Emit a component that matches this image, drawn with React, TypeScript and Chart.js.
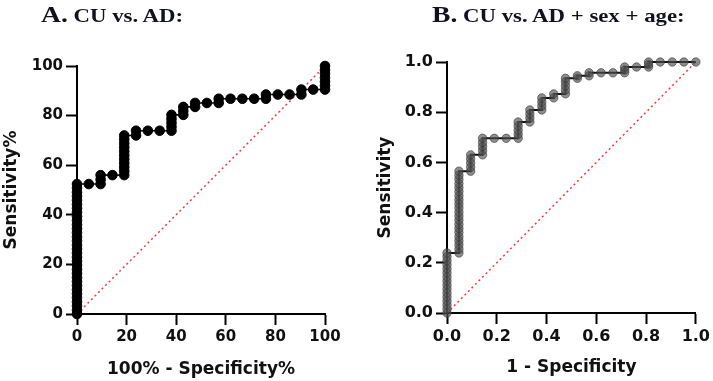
import React, { useEffect, useRef } from "react";
import { Chart, registerables } from "chart.js";

Chart.register(...registerables);

// ---------- Panel A: CU vs. AD (percent scale) ----------
const fprA = [
  0, 0, 0, 0, 0, 0, 0, 0, 0, 0, 0, 0, 0, 0, 0, 0, 0, 0, 0, 0, 0, 0, 0, 0, 0, 0, 0, 0, 0, 0, 0, 0, 0,
  4.76,
  9.52, 9.52, 9.52,
  14.29,
  19.05, 19.05, 19.05, 19.05, 19.05, 19.05, 19.05, 19.05, 19.05, 19.05, 19.05,
  23.81, 23.81,
  28.57,
  33.33,
  38.1, 38.1, 38.1, 38.1, 38.1,
  42.86, 42.86, 42.86,
  47.62, 47.62,
  52.38,
  57.14, 57.14,
  61.9,
  66.67,
  71.43,
  76.19, 76.19,
  80.95,
  85.71,
  90.48, 90.48,
  95.24,
  100, 100, 100, 100, 100, 100, 100,
];
const tprA = [
  0, 1.6, 3.3, 4.9, 6.6, 8.2, 9.8, 11.5, 13.1, 14.7, 16.4, 18.0, 19.7, 21.3, 22.9, 24.6, 26.2,
  27.8, 29.5, 31.1, 32.8, 34.4, 36.0, 37.7, 39.3, 41.0, 42.6, 44.2, 45.9, 47.5, 49.1, 50.8, 52.4,
  52.4,
  52.4, 54.2, 56.0,
  56.0,
  56.0, 57.6, 59.2, 60.8, 62.4, 64.0, 65.6, 67.2, 68.8, 70.4, 72.0,
  72.0, 73.9,
  73.9,
  73.9,
  73.9, 75.5, 77.1, 78.7, 80.3,
  80.3, 81.9, 83.5,
  83.5, 85.1,
  85.1,
  85.1, 86.8,
  86.8,
  86.8,
  86.8,
  86.8, 88.5,
  88.5,
  88.5,
  88.5, 90.5,
  90.5,
  90.5, 92.1, 93.7, 95.3, 96.9, 98.4, 100,
];
const ticksA = [0, 20, 40, 60, 80, 100];
const diagA = [0, 100];

// ---------- Panel B: CU vs. AD + sex + age (fraction scale) ----------
const fprB = [
  0, 0, 0, 0, 0, 0, 0, 0, 0, 0, 0, 0, 0, 0, 0, 0,
  0.048, 0.048, 0.048, 0.048, 0.048, 0.048, 0.048, 0.048, 0.048, 0.048, 0.048,
  0.048, 0.048, 0.048, 0.048, 0.048, 0.048, 0.048, 0.048, 0.048, 0.048,
  0.095, 0.095, 0.095, 0.095, 0.095,
  0.143, 0.143, 0.143, 0.143, 0.143,
  0.19,
  0.238,
  0.286, 0.286, 0.286, 0.286, 0.286,
  0.333, 0.333, 0.333, 0.333,
  0.381, 0.381, 0.381, 0.381,
  0.429, 0.429,
  0.476, 0.476, 0.476, 0.476, 0.476,
  0.524, 0.524,
  0.571, 0.571,
  0.619,
  0.667,
  0.714, 0.714, 0.714,
  0.762,
  0.81, 0.81, 0.81,
  0.857,
  0.905,
  0.952,
  1.0,
];
const tprB = [
  0, 0.016, 0.032, 0.048, 0.064, 0.08, 0.096, 0.112, 0.128, 0.144, 0.16, 0.176, 0.192, 0.208, 0.224, 0.239,
  0.239, 0.255, 0.272, 0.288, 0.304, 0.321, 0.337, 0.353, 0.37, 0.386, 0.402,
  0.419, 0.435, 0.451, 0.467, 0.484, 0.5, 0.516, 0.533, 0.549, 0.565,
  0.565, 0.581, 0.598, 0.614, 0.63,
  0.63, 0.647, 0.663, 0.679, 0.696,
  0.696,
  0.696,
  0.696, 0.712, 0.728, 0.745, 0.761,
  0.761, 0.777, 0.793, 0.809,
  0.809, 0.825, 0.841, 0.857,
  0.857, 0.873,
  0.873, 0.889, 0.905, 0.921, 0.935,
  0.935, 0.945,
  0.945, 0.957,
  0.957,
  0.957,
  0.957, 0.968, 0.98,
  0.98,
  0.98, 0.99, 1.0,
  1.0,
  1.0,
  1.0,
  1.0,
];
const ticksB = [0, 0.2, 0.4, 0.6, 0.8, 1.0];
const diagB = [0, 1];

type PanelCfg = {
  fpr: number[];
  tpr: number[];
  diag: number[];
  ticks: number[];
  decimals: number;
  xTitle: string;
  yTitle: string;
  padding: { left: number; top: number; right: number; bottom: number };
  yWidth: number;
  xHeight: number;
  xTitlePad: number;
  yTitlePad: number;
  tickSize: number;
  pointRadius: number;
  pointFill: string;
  pointBorder: string;
  lineWidth: number;
};

function buildConfig(c: PanelCfg): any {
  const roc = c.fpr.map((x, i) => ({ x, y: c.tpr[i] }));
  const diag = c.diag.map((v) => ({ x: v, y: v }));
  const tickFont = { family: "DejaVu Sans", size: c.tickSize, weight: "bold" as const };
  const titleFont = { family: "DejaVu Sans", size: 17, weight: "bold" as const };
  const lo = c.ticks[0];
  const hi = c.ticks[c.ticks.length - 1];
  const setTicks = (s: any) => {
    s.ticks = c.ticks.map((v) => ({ value: v }));
  };
  const fmt = (v: any) => Number(v).toFixed(c.decimals);
  return {
    type: "scatter",
    data: {
      datasets: [
        {
          data: roc,
          showLine: true,
          borderColor: "#111111",
          borderWidth: c.lineWidth,
          pointRadius: c.pointRadius,
          pointBackgroundColor: c.pointFill,
          pointBorderColor: c.pointBorder,
          pointBorderWidth: 1,
          clip: false,
        },
        {
          data: diag,
          showLine: true,
          borderColor: "#ff3636",
          borderWidth: 1.5,
          borderDash: [2, 3],
          pointRadius: 0,
          clip: false,
        },
      ],
    },
    options: {
      animation: false,
      responsive: false,
      events: [],
      layout: { padding: c.padding },
      plugins: { legend: { display: false }, tooltip: { enabled: false }, title: { display: false } },
      scales: {
        x: {
          type: "linear",
          min: lo,
          max: hi,
          afterBuildTicks: setTicks,
          afterFit: (s: any) => {
            s.height = c.xHeight;
          },
          grid: {
            drawOnChartArea: false,
            drawTicks: true,
            tickLength: 11,
            tickWidth: 2,
            tickColor: "#000",
          },
          border: { display: true, color: "#000", width: 2 },
          ticks: { font: tickFont, color: "#111", padding: 3, callback: fmt, maxRotation: 0 },
          title: {
            display: true,
            text: c.xTitle,
            font: titleFont,
            color: "#111",
            padding: { top: 0, bottom: c.xTitlePad },
          },
        },
        y: {
          type: "linear",
          min: lo,
          max: hi,
          afterBuildTicks: setTicks,
          afterFit: (s: any) => {
            s.width = c.yWidth;
          },
          grid: {
            drawOnChartArea: false,
            drawTicks: true,
            tickLength: 11,
            tickWidth: 2,
            tickColor: "#000",
          },
          border: { display: true, color: "#000", width: 2 },
          ticks: { font: tickFont, color: "#111", padding: 3, callback: fmt },
          title: {
            display: true,
            text: c.yTitle,
            font: titleFont,
            color: "#111",
            padding: { top: c.yTitlePad, bottom: 0 },
          },
        },
      },
    },
  };
}

function Panel(props: { cfg: PanelCfg; left: number; width: number }) {
  const ref = useRef<HTMLCanvasElement | null>(null);
  useEffect(() => {
    if (!ref.current) return;
    const chart = new Chart(ref.current, buildConfig(props.cfg));
    return () => chart.destroy();
  }, []);
  return (
    <canvas
      ref={ref}
      width={props.width}
      height={381}
      style={{ position: "absolute", left: props.left, top: 0, width: props.width, height: 381 }}
    />
  );
}

const cfgA: PanelCfg = {
  fpr: fprA,
  tpr: tprA,
  diag: diagA,
  ticks: ticksA,
  decimals: 0,
  xTitle: "100% - Specificity%",
  yTitle: "Sensitivity%",
  padding: { left: 0, top: 66, right: 31, bottom: 0 },
  yWidth: 77,
  xHeight: 67,
  xTitlePad: 1,
  yTitlePad: 1,
  tickSize: 15,
  pointRadius: 4.8,
  pointFill: "#000000",
  pointBorder: "#000000",
  lineWidth: 1.6,
};

const cfgB: PanelCfg = {
  fpr: fprB,
  tpr: tprB,
  diag: diagB,
  ticks: ticksB,
  decimals: 1,
  xTitle: "1 - Specificity",
  yTitle: "Sensitivity",
  padding: { left: 19, top: 62, right: 14, bottom: 0 },
  yWidth: 72,
  xHeight: 68,
  xTitlePad: 3,
  yTitlePad: 0,
  tickSize: 16,
  pointRadius: 4.2,
  pointFill: "rgba(80,80,80,0.65)",
  pointBorder: "rgba(55,55,55,0.6)",
  lineWidth: 2,
};

const titleStyle: React.CSSProperties = {
  position: "absolute",
  top: 3,
  whiteSpace: "nowrap",
  fontFamily: "'Liberation Serif', 'Times New Roman', serif",
  fontWeight: "bold",
  color: "#12121e",
  lineHeight: "23px",
  transformOrigin: "left top",
  transform: "scaleX(1.2)",
};

export default function App() {
  return (
    <div
      style={{
        position: "fixed",
        left: 0,
        top: 0,
        width: 713,
        height: 381,
        background: "#ffffff",
        overflow: "hidden",
      }}
    >
      <Panel cfg={cfgA} left={0} width={356} />
      <Panel cfg={cfgB} left={356} width={357} />
      <div style={{ ...titleStyle, left: 41 }}>
        <span style={{ fontSize: 23 }}>A.</span>
        <span style={{ fontSize: 19 }}> CU vs. AD:</span>
      </div>
      <div style={{ ...titleStyle, left: 432 }}>
        <span style={{ fontSize: 23 }}>B.</span>
        <span style={{ fontSize: 19 }}> CU vs. AD + sex + age:</span>
      </div>
    </div>
  );
}
